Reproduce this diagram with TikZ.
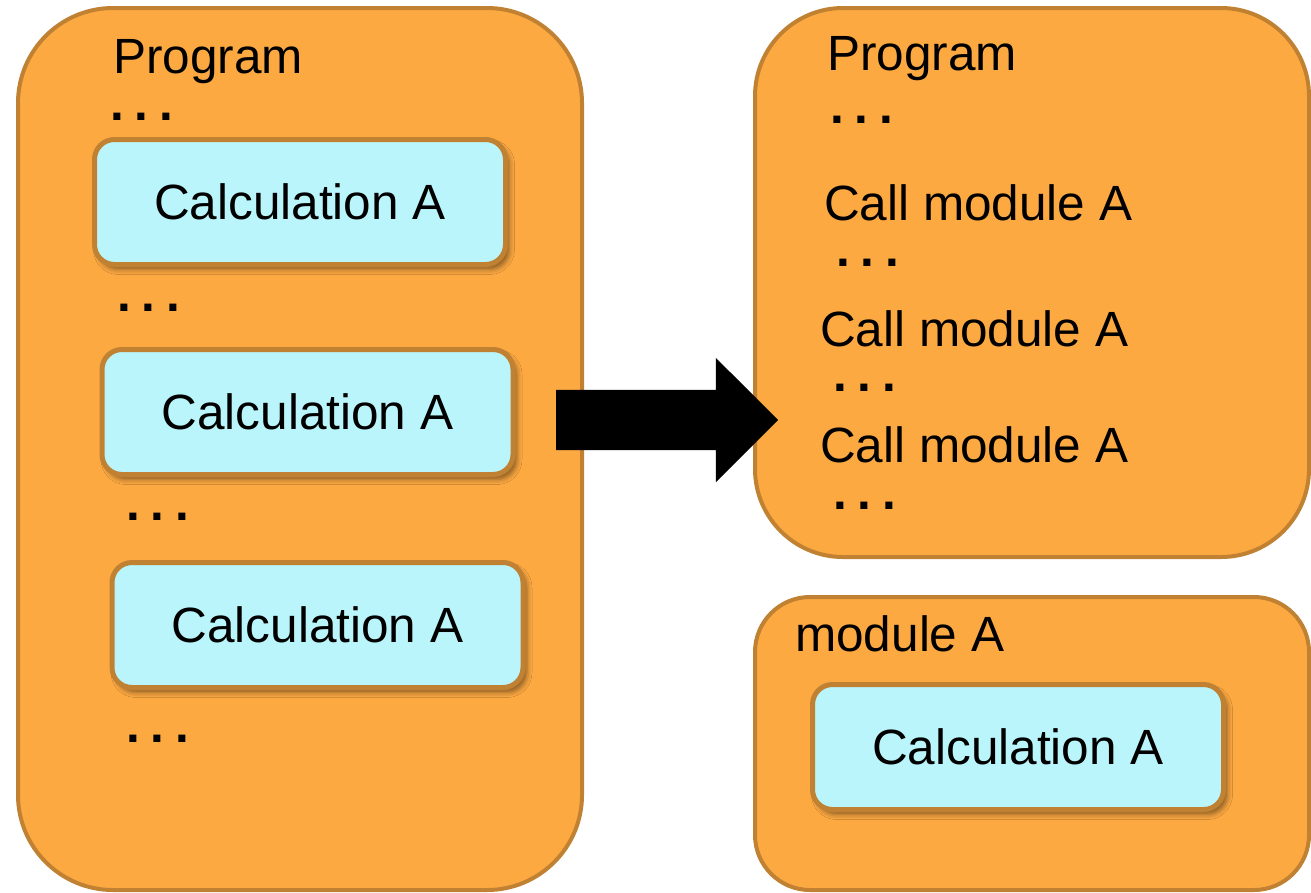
\documentclass[tikz,border=0pt]{standalone}
\usepackage{fontspec}
\setmainfont{Liberation Sans}
\usetikzlibrary{shapes.arrows,shadows.blur}
\definecolor{boxorange}{RGB}{253,169,66}
\definecolor{boxedge}{RGB}{192,130,50}
\definecolor{calcfill}{RGB}{186,245,252}
\begin{document}
\begin{tikzpicture}[x=1pt,y=-1pt,
  outer/.style={draw=boxedge, line width=4pt, fill=boxorange, rounded corners=#1, inner sep=0, outer sep=0},
  calc/.style={draw=boxedge, line width=5pt, fill=calcfill, rounded corners=20pt,
    minimum width=411pt, minimum height=125pt, inner sep=0,
    font=\fontsize{49.5}{59}\selectfont,
    blur shadow={shadow xshift=4pt, shadow yshift=-5pt, shadow blur radius=5pt, shadow opacity=45}},
  lbl/.style={anchor=base west, inner sep=0, font=\fontsize{49.5}{59}\selectfont},
  dots/.style={anchor=base west, inner sep=0, font=\fontsize{49.5}{59}\selectfont\bfseries}]
\useasboundingbox (0,0) rectangle (1311,892);
\newcommand{\mydots}{.\kern10.7pt.\kern10.7pt.}
% outer containers
\node[outer=95pt, minimum width=564pt, minimum height=882pt] (left) at (300,449) {};
\node[outer=88pt, minimum width=554pt, minimum height=549pt] (rtop) at (1032,282.5) {};
\node[outer=55pt, minimum width=554pt, minimum height=293pt] (rbot) at (1032,743.5) {};
% block arrow
\node[single arrow, fill=black, draw=none, minimum height=222pt, minimum width=124pt,
  single arrow head extend=32pt, inner xsep=0pt, inner ysep=30pt, outer sep=0,
  anchor=tip] (arr) at (778,420) {};
% left program
\node[lbl] (progL) at (113,73) {Program};
\node[dots] (dL1) at (110,120) {\mydots};
\node[calc] (c1) at (300,202) {Calculation A};
\node[dots] (dL2) at (117,311) {\mydots};
\node[calc] (c2) at (307.5,412) {Calculation A};
\node[dots] (dL3) at (126,520) {\mydots};
\node[calc] (c3) at (317.5,625) {Calculation A};
\node[dots] (dL4) at (126,742) {\mydots};
% right program
\node[lbl] (progR) at (827,70) {Program};
\node[dots] (dR1) at (830,123) {\mydots};
\node[lbl] (call1) at (824,220) {Call module A};
\node[dots] (dR2) at (836,266) {\mydots};
\node[lbl] (call2) at (820,346) {Call module A};
\node[dots] (dR3) at (833,391) {\mydots};
\node[lbl] (call3) at (820,462) {Call module A};
\node[dots] (dR4) at (833,509) {\mydots};
% module A
\node[lbl] (modA) at (795,651) {module A};
\node[calc] (c4) at (1018,747) {Calculation A};
\end{tikzpicture}
\end{document}
